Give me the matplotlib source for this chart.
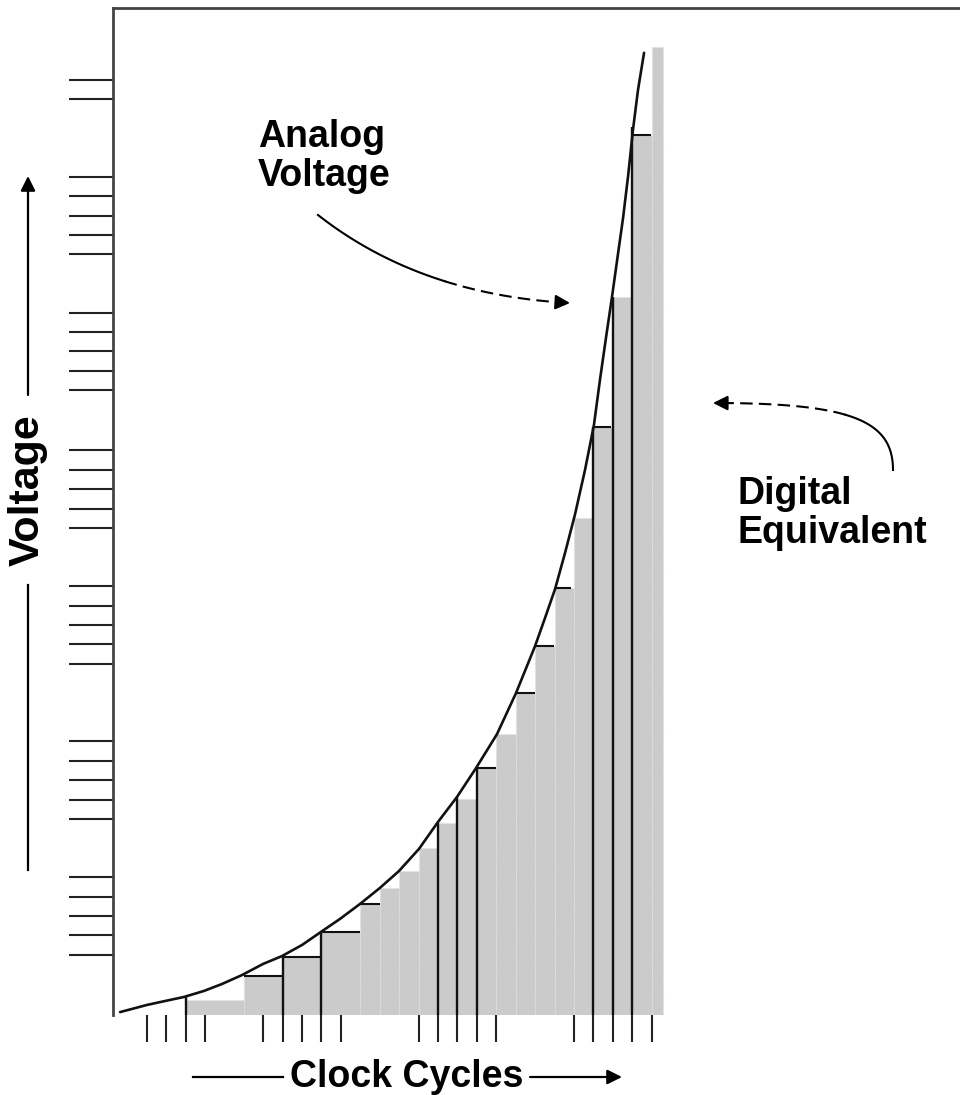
import numpy as np
import matplotlib
matplotlib.use("Agg")
import matplotlib.pyplot as plt
from matplotlib.lines import Line2D

plt.rcParams['font.family'] = ['Liberation Sans', 'DejaVu Sans']

# ---------------- data (clock cycles on x, voltage levels on y) ----------------
# digital equivalent: staircase bars (left edge, right edge, level)
bar_left = [2, 5, 7, 9, 11, 12, 13, 14, 15, 16, 17, 18, 19, 20, 21, 22, 23, 24, 25, 26]
bar_right = [5, 7, 9, 11, 12, 13, 14, 15, 16, 17, 18, 19, 20, 21, 22, 23, 24, 25, 26, 26.6]
bar_level = [0.77, 2.01, 3.0, 4.28, 5.72, 6.55, 7.42, 8.61, 9.91, 11.13, 12.75, 14.48,
             16.6, 19.02, 22.0, 25.62, 30.32, 37.03, 45.36, 49.88]

# analog voltage curve
curve_x = [-1.37, 0.02, 0.94, 1.92, 2.95, 3.88, 4.91, 5.99, 6.97, 8.00, 8.97, 9.95,
           10.98, 12.01, 12.99, 14.02, 15.00, 15.98, 16.96, 18.04, 19.02, 20.0, 20.51,
           21.03, 21.54, 22.06, 22.57, 23.03, 23.34, 23.65, 23.96, 24.27, 24.53, 24.79,
           25.04, 25.30, 25.61]
curve_y = [0.15, 0.52, 0.72, 0.93, 1.24, 1.60, 2.06, 2.63, 3.04, 3.61, 4.28, 4.95,
           5.72, 6.55, 7.42, 8.56, 9.95, 11.24, 12.73, 14.48, 16.60, 19.02, 20.46,
           21.96, 23.81, 25.82, 28.09, 30.41, 32.73, 34.90, 37.01, 39.23, 41.08, 43.25,
           45.62, 47.68, 49.59]

# black sample lines drawn over the staircase
vline_x = [2, 7, 9, 15, 16, 17, 23, 24, 25]
vline_top = [0.93, 3.0, 4.28, 9.91, 11.25, 12.73, 30.3, 37.03, 45.77]
hline_y = [2.01, 3.0, 4.28, 5.72, 12.75, 16.6, 19.02, 22.0, 30.32, 45.36]
hline_x0 = [5, 7, 9, 11, 17, 19, 20, 21, 23, 25]
hline_x1 = [7, 9, 11, 12, 18, 20, 20.95, 21.85, 23.9, 25.95]

# clock-cycle ticks and voltage-level ticks
clock_ticks = [0, 1, 2, 3, 6, 7, 8, 9, 10, 14, 15, 16, 17, 18, 22, 23, 24, 25, 26]
volt_ticks = [3.1, 4.1, 5.1, 6.1, 7.1, 10.1, 11.1, 12.1, 13.1, 14.1,
              18.1, 19.1, 20.1, 21.1, 22.1, 25.1, 26.1, 27.1, 28.1, 29.1,
              32.2, 33.2, 34.2, 35.2, 36.2, 39.2, 40.2, 41.2, 42.2, 43.2,
              47.2, 48.2]

# ---------------- figure ----------------
W, H = 960, 1095
fig = plt.figure(figsize=(W / 100, H / 100), dpi=100)
fig.patch.set_facecolor('white')


def fp(x, y):
    """pixel (from top-left) -> figure fraction"""
    return (x / W, 1 - y / H)


ax_l, ax_r, ax_t, ax_b = 112.7, 960, 8, 1015
ax = fig.add_axes([ax_l / W, 1 - ax_b / H, (ax_r - ax_l) / W, (ax_b - ax_t) / H])
ax.set_xlim(-1.751, 41.88)
ax.set_ylim(0, 51.9)

widths = [r - l for l, r in zip(bar_left, bar_right)]
ax.bar(bar_left, bar_level, width=widths, align='edge', color='#cbcbcb',
       edgecolor='#e2e2e2', linewidth=0.8, linestyle=':', zorder=1)

ax.vlines(vline_x, 0, vline_top, color='#111111', lw=1.7, zorder=3)
ax.hlines(hline_y, hline_x0, hline_x1, color='#111111', lw=1.5, zorder=3)
ax.plot(curve_x, curve_y, color='#111111', lw=1.9, zorder=4,
        solid_capstyle='round', solid_joinstyle='round')

for s in ['bottom', 'right']:
    ax.spines[s].set_visible(False)
for s in ['left', 'top']:
    ax.spines[s].set_linewidth(2.0)
    ax.spines[s].set_color('#444444')

ax.set_xticks(clock_ticks)
ax.set_yticks(volt_ticks)
ax.tick_params(axis='x', direction='out', length=19.5, width=1.5, color='#222222',
               labelbottom=False)
ax.tick_params(axis='y', direction='out', length=32, width=1.5, color='#222222',
               labelleft=False)

# ---------------- labels ----------------
fs = 27
fig.text(*fp(258, 186), 'Analog\nVoltage', fontsize=fs, fontweight='bold',
         ha='left', va='baseline', linespacing=1.1)
fig.text(*fp(737, 543), 'Digital\nEquivalent', fontsize=fs, fontweight='bold',
         ha='left', va='baseline', linespacing=1.1)
fig.text(*fp(407, 1077), 'Clock Cycles', fontsize=fs, fontweight='bold',
         ha='center', va='center')
fig.text(*fp(28, 490), 'Voltage', fontsize=31, fontweight='bold',
         ha='center', va='center', rotation=90)

# axis-label arrows
fig.add_artist(Line2D([193 / W, 283 / W], [1 - 1077 / H] * 2, color='black', lw=1.6))
ax.annotate('', xy=fp(622, 1077), xytext=fp(530, 1077), xycoords='figure fraction',
            textcoords='figure fraction',
            arrowprops=dict(arrowstyle='-|>', color='black', lw=1.6, mutation_scale=22,
                            shrinkA=0, shrinkB=0))
fig.add_artist(Line2D([28 / W] * 2, [1 - 585 / H, 1 - 870 / H], color='black', lw=1.6))
ax.annotate('', xy=fp(28, 176), xytext=fp(28, 395), xycoords='figure fraction',
            textcoords='figure fraction',
            arrowprops=dict(arrowstyle='-|>', color='black', lw=1.6, mutation_scale=22,
                            shrinkA=0, shrinkB=0))


def bezier(pts, t):
    pts = np.asarray(pts, float)
    n = len(pts) - 1
    from math import comb
    out = np.zeros((len(t), 2))
    for i, p in enumerate(pts):
        out += comb(n, i) * ((1 - t) ** (n - i) * t ** i)[:, None] * p
    return out


def callout(ctrl, split):
    t1 = np.linspace(0, split, 60)
    t2 = np.linspace(split, 0.97, 60)
    a = bezier(ctrl, t1)
    b = bezier(ctrl, t2)
    fig.add_artist(Line2D(a[:, 0] / W, 1 - a[:, 1] / H, color='black', lw=1.5))
    fig.add_artist(Line2D(b[:, 0] / W, 1 - b[:, 1] / H, color='black', lw=1.5,
                          linestyle=(0, (6, 3))))
    end = bezier(ctrl, np.array([0.97, 1.0]))
    ax.annotate('', xy=fp(*end[1]), xytext=fp(*end[0]), xycoords='figure fraction',
                textcoords='figure fraction',
                arrowprops=dict(arrowstyle='-|>', color='black', lw=1.5,
                                mutation_scale=22, shrinkA=0, shrinkB=0))


callout([(318, 215), (420, 295), (570, 303)], 0.55)
callout([(893, 470), (893, 420), (850, 403), (713, 403)], 0.55)

fig.savefig('out.png', dpi=100, facecolor='white')
